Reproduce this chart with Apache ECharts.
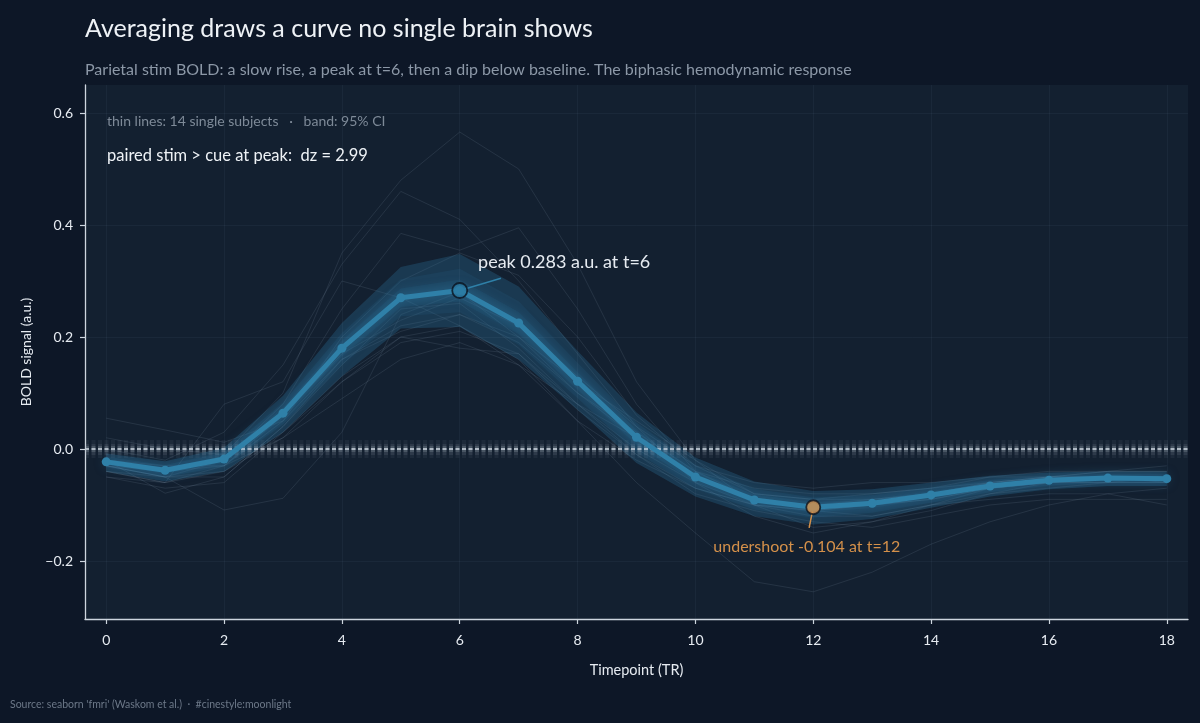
<!DOCTYPE html>
<html>
<head>
<meta charset="utf-8">
<script src="https://cdn.jsdelivr.net/npm/echarts@6/dist/echarts.min.js"></script>
<style>
  html, body { margin: 0; padding: 0; background: #0d1727; }
  #chart { width: 1200px; height: 723px; }
</style>
</head>
<body>
<div id="chart"></div>
<script>
// timepoints (TR) and the group mean with its 95% CI
const timepoints = [0, 1, 2, 3, 4, 5, 6, 7, 8, 9, 10, 11, 12, 13, 14, 15, 16, 17, 18];
const meanSignal = [-0.023, -0.038, -0.018, 0.064, 0.180, 0.270, 0.283, 0.225, 0.121, 0.021,
                    -0.050, -0.091, -0.104, -0.097, -0.082, -0.066, -0.056, -0.052, -0.053];
const ciLow  = [-0.040, -0.058, -0.040, 0.030, 0.130, 0.215, 0.218, 0.160, 0.070, -0.025,
                -0.085, -0.120, -0.135, -0.125, -0.105, -0.085, -0.072, -0.066, -0.066];
const ciHigh = [-0.008, -0.022, 0.002, 0.095, 0.225, 0.325, 0.348, 0.290, 0.175, 0.065,
                -0.015, -0.058, -0.075, -0.072, -0.060, -0.048, -0.042, -0.040, -0.040];

// single subjects (thin lines)
const subj01 = [0.02, 0.00, -0.01, 0.10, 0.35, 0.48, 0.566, 0.50, 0.33, 0.12, -0.02, -0.10, -0.14, -0.13, -0.10, -0.07, -0.05, -0.04, -0.03];
const subj02 = [0.00, -0.02, 0.03, 0.15, 0.33, 0.46, 0.41, 0.30, 0.17, 0.04, -0.06, -0.12, -0.15, -0.13, -0.11, -0.08, -0.06, -0.05, -0.05];
const subj03 = [-0.03, -0.05, -0.02, 0.08, 0.25, 0.385, 0.355, 0.395, 0.25, 0.08, -0.04, -0.09, -0.11, -0.12, -0.10, -0.08, -0.07, -0.06, -0.06];
const subj04 = [0.055, 0.034, 0.012, 0.05, 0.20, 0.30, 0.35, 0.31, 0.20, 0.06, -0.03, -0.08, -0.09, -0.09, -0.08, -0.06, -0.05, -0.04, -0.04];
const subj05 = [-0.04, -0.06, 0.08, 0.12, 0.30, 0.27, 0.22, 0.15, 0.05, -0.02, -0.07, -0.10, -0.11, -0.10, -0.09, -0.07, -0.06, -0.06, -0.05];
const subj06 = [-0.03, -0.05, -0.109, -0.088, 0.03, 0.24, 0.28, 0.20, 0.12, 0.05, -0.02, -0.08, -0.09, -0.08, -0.07, -0.05, -0.05, -0.05, -0.05];
const subj07 = [-0.04, -0.06, -0.03, 0.02, 0.12, 0.20, 0.22, 0.16, 0.05, -0.06, -0.15, -0.237, -0.255, -0.22, -0.17, -0.13, -0.10, -0.08, -0.07];
const subj08 = [-0.02, -0.079, -0.05, 0.04, 0.15, 0.25, 0.26, 0.18, 0.08, -0.01, -0.08, -0.11, -0.13, -0.14, -0.12, -0.10, -0.09, -0.09, -0.09];
const subj09 = [-0.03, -0.04, -0.03, 0.05, 0.16, 0.22, 0.24, 0.20, 0.10, 0.03, -0.04, -0.07, -0.08, -0.08, -0.07, -0.06, -0.05, -0.05, -0.05];
const subj10 = [-0.05, -0.06, -0.04, 0.03, 0.13, 0.20, 0.18, 0.17, 0.08, 0.02, -0.05, -0.09, -0.10, -0.09, -0.08, -0.07, -0.06, -0.06, -0.06];
const subj11 = [-0.02, -0.03, -0.03, 0.06, 0.17, 0.23, 0.27, 0.22, 0.13, 0.04, -0.03, -0.06, -0.07, -0.06, -0.06, -0.05, -0.04, -0.04, -0.04];
const subj12 = [-0.04, -0.05, -0.05, 0.04, 0.16, 0.21, 0.24, 0.19, 0.10, 0.02, -0.05, -0.09, -0.10, -0.10, -0.08, -0.06, -0.05, -0.05, -0.05];
const subj13 = [-0.03, -0.05, -0.04, 0.02, 0.09, 0.16, 0.19, 0.15, 0.08, 0.00, -0.06, -0.10, -0.11, -0.10, -0.09, -0.07, -0.06, -0.05, -0.06];
const subj14 = [-0.05, -0.07, -0.06, 0.03, 0.12, 0.19, 0.21, 0.17, 0.07, -0.01, -0.07, -0.10, -0.12, -0.12, -0.10, -0.09, -0.08, -0.08, -0.10];
const subjects = [subj01, subj02, subj03, subj04, subj05, subj06, subj07, subj08, subj09, subj10, subj11, subj12, subj13, subj14];

// axis ticks
const xTicks = [0, 2, 4, 6, 8, 10, 12, 14, 16, 18];
const yTicks = [-0.2, 0.0, 0.2, 0.4, 0.6];

// annotation anchors (data units)
const peakLabelAt = [6.31, 0.334];
const peakLeaderEnd = [6.70, 0.305];
const dipLabelAt = [11.89, -0.175];
const dipLeaderEnd = [11.93, -0.141];

const FONT = 'Lato, "Noto Sans", sans-serif';
const BLUE = '#2f80a8';
const ORANGE = '#d4904a';
const INK = '#e6ebf1';

const peakIdx = meanSignal.indexOf(Math.max(...meanSignal));
const dipIdx = meanSignal.indexOf(Math.min(...meanSignal));
const peakT = timepoints[peakIdx], peakV = meanSignal[peakIdx];
const dipT = timepoints[dipIdx], dipV = meanSignal[dipIdx];

const pairs = arr => timepoints.map((t, i) => [t, arr[i]]);
const fmtY = v => v.toFixed(1).replace('-', '\u2212');

const chart = echarts.init(document.getElementById('chart'), null, { renderer: 'canvas' });

function bandSeries(frac, opacity) {
    // polygon between scaled CI limits around the mean
    const hi = meanSignal.map((m, i) => m + (ciHigh[i] - m) * frac);
    const lo = meanSignal.map((m, i) => m - (m - ciLow[i]) * frac);
    return {
        type: 'custom',
        silent: true,
        z: 3,
        data: pairs(meanSignal),
        renderItem: (params, api) => {
            if (params.dataIndex !== 0) return;
            const pts = [];
            for (let i = 0; i < timepoints.length; i++) pts.push(api.coord([timepoints[i], hi[i]]));
            for (let i = timepoints.length - 1; i >= 0; i--) pts.push(api.coord([timepoints[i], lo[i]]));
            return {
                type: 'polygon',
                shape: { points: pts },
                style: { fill: '#2a7099', opacity: opacity }
            };
        }
    };
}

const series = [];

subjects.forEach((s, k) => {
    const sr = {
        type: 'line',
        data: pairs(s),
        symbol: 'none',
        silent: true,
        z: 2,
        lineStyle: { color: '#8da0b5', width: 1, opacity: 0.15 }
    };
    if (k === 0) {
        sr.markLine = {
            silent: true,
            symbol: 'none',
            label: { show: false },
            lineStyle: { color: 'rgba(140,165,190,0.065)', width: 1, type: 'solid' },
            data: xTicks.map(x => ({ xAxis: x })).concat(yTicks.map(y => ({ yAxis: y })))
        };
    }
    series.push(sr);
});

series.push(bandSeries(1.0, 0.32));
series.push(bandSeries(0.6, 0.14));
series.push(bandSeries(0.3, 0.12));

// glowing dashed baseline
const dash = [4, 2.5];
series.push({
    type: 'line',
    data: pairs(meanSignal),
    symbol: 'none',
    silent: true,
    z: 4,
    lineStyle: { opacity: 0 },
    markLine: {
        silent: true,
        symbol: 'none',
        label: { show: false },
        data: [
            { yAxis: 0, lineStyle: { color: '#aeb9c6', width: 18, opacity: 0.07, type: dash } },
            { yAxis: 0, lineStyle: { color: '#aeb9c6', width: 11, opacity: 0.12, type: dash } },
            { yAxis: 0, lineStyle: { color: '#aeb9c6', width: 6, opacity: 0.22, type: dash } },
            { yAxis: 0, lineStyle: { color: '#c8d1db', width: 2, opacity: 0.8, type: dash } }
        ]
    }
});

// mean line with glow
series.push({
    type: 'line',
    data: pairs(meanSignal),
    symbol: 'circle',
    symbolSize: 9,
    silent: true,
    z: 5,
    itemStyle: { color: BLUE },
    lineStyle: {
        color: BLUE, width: 5,
        shadowColor: 'rgba(60,150,200,0.55)', shadowBlur: 12
    }
});

// peak marker + annotation
series.push({
    type: 'scatter',
    data: [[peakT, peakV]],
    symbolSize: 15,
    silent: true,
    z: 7,
    itemStyle: { color: '#2b7ba3', borderColor: '#0a121d', borderWidth: 1.8 },
    markLine: {
        silent: true, symbol: 'none', label: { show: false },
        lineStyle: { color: BLUE, width: 1.5, type: 'solid' },
        data: [[{ coord: [peakT, peakV] }, { coord: peakLeaderEnd }]]
    },
    markPoint: {
        silent: true,
        symbol: 'circle', symbolSize: 0.1,
        itemStyle: { color: 'rgba(0,0,0,0)' },
        label: {
            show: true, position: 'right', distance: 0,
            color: INK, fontFamily: FONT, fontSize: 18,
            formatter: `peak ${peakV.toFixed(3)} a.u. at t=${peakT}`
        },
        data: [{ coord: peakLabelAt }]
    }
});

// undershoot marker + annotation
series.push({
    type: 'scatter',
    data: [[dipT, dipV]],
    symbolSize: 14,
    silent: true,
    z: 7,
    itemStyle: { color: ORANGE, borderColor: '#0a121d', borderWidth: 1.8 },
    markLine: {
        silent: true, symbol: 'none', label: { show: false },
        lineStyle: { color: ORANGE, width: 1.5, type: 'solid' },
        data: [[{ coord: [dipT, dipV] }, { coord: dipLeaderEnd }]]
    },
    markPoint: {
        silent: true,
        symbol: 'circle', symbolSize: 0.1,
        itemStyle: { color: 'rgba(0,0,0,0)' },
        label: {
            show: true, position: 'inside',
            color: ORANGE, fontFamily: FONT, fontSize: 16,
            formatter: `undershoot ${dipV.toFixed(3)} at t=${dipT}`
        },
        data: [{ coord: dipLabelAt }]
    }
});

chart.setOption({
    backgroundColor: '#0d1727',
    animation: false,
    textStyle: { fontFamily: FONT },
    grid: {
        left: 85, right: 12, top: 85, bottom: 104,
        show: true, backgroundColor: '#132030', borderWidth: 0
    },
    graphic: [
        { type: 'text', left: 85, top: 16, style: { text: 'Averaging draws a curve no single brain shows', fill: '#eef2f6', font: '400 25px ' + FONT } },
        { type: 'text', left: 85, top: 62, style: { text: 'Parietal stim BOLD: a slow rise, a peak at t=6, then a dip below baseline. The biphasic hemodynamic response', fill: '#8c98a7', font: '400 16px ' + FONT } },
        { type: 'text', left: 107, top: 114, z: 10, style: { text: 'thin lines: 14 single subjects   \u00b7   band: 95% CI', fill: '#7e8a98', font: '400 14px ' + FONT } },
        { type: 'text', left: 107, top: 147, z: 10, style: { text: 'paired stim > cue at peak:  dz = 2.99', fill: '#eef2f6', font: '400 16.5px ' + FONT } },
        { type: 'text', left: 10, top: 699, style: { text: "Source: seaborn 'fmri' (Waskom et al.)  \u00b7  #cinestyle:moonlight", fill: '#6c7888', font: '400 10.5px ' + FONT } }
    ],
    xAxis: {
        type: 'value',
        min: -0.36, max: 18.36,
        name: 'Timepoint (TR)',
        nameLocation: 'middle',
        nameGap: 44,
        nameTextStyle: { color: INK, fontSize: 14.5, fontFamily: FONT },
        axisLine: { show: true, onZero: false, lineStyle: { color: '#cdd5de', width: 1.3 } },
        axisTick: { show: true, customValues: xTicks, length: 5, lineStyle: { color: '#cdd5de', width: 1.2 } },
        axisLabel: { customValues: xTicks, color: INK, fontSize: 14, margin: 14, fontFamily: FONT },
        splitLine: { show: false }
    },
    yAxis: {
        type: 'value',
        min: -0.3036, max: 0.65,
        name: 'BOLD signal (a.u.)',
        nameLocation: 'middle',
        nameGap: 52,
        nameRotate: 90,
        nameTextStyle: { color: INK, fontSize: 14, fontFamily: FONT },
        axisLine: { show: true, onZero: false, lineStyle: { color: '#cdd5de', width: 1.3 } },
        axisTick: { show: true, customValues: yTicks, length: 5, lineStyle: { color: '#cdd5de', width: 1.2 } },
        axisLabel: { customValues: yTicks, color: INK, fontSize: 14, margin: 12, fontFamily: FONT, formatter: fmtY },
        splitLine: { show: false }
    },
    series: series
});
</script>
</body>
</html>
